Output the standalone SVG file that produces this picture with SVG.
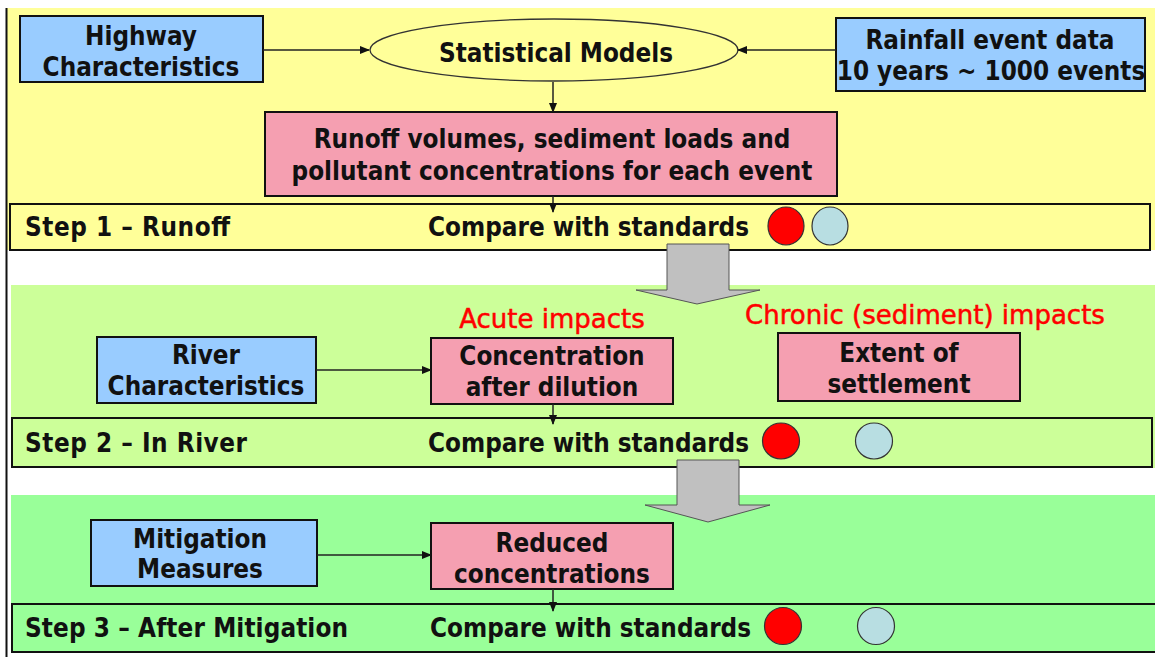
<svg xmlns="http://www.w3.org/2000/svg" width="1155" height="657" viewBox="0 0 1155 657">
<style>
.t{font-family:"DejaVu Sans Condensed","DejaVu Sans",sans-serif;font-weight:bold;font-size:25.8px;fill:#111;}
.c{text-anchor:middle;}
.red{font-family:"DejaVu Sans",sans-serif;font-size:26px;fill:#FF0000;stroke:#FF0000;stroke-width:0.5;text-anchor:middle;}
.blue{fill:#99CCFF;stroke:#111;stroke-width:2;}
.pink{fill:#F59FB1;stroke:#111;stroke-width:2;}
.bar{stroke:#111;stroke-width:2;}
.rc{fill:#FF0000;stroke:#333;stroke-width:1.2;}
.lc{fill:#B8DEE2;stroke:#333;stroke-width:1.2;}
.ln{stroke:#222;stroke-width:1.5;fill:none;marker-end:url(#ah);}
.big{fill:#C0C0C0;stroke:#555;stroke-width:1;}
</style>
<defs>
<marker id="ah" markerWidth="10" markerHeight="8" refX="9" refY="4" orient="auto" markerUnits="userSpaceOnUse">
<path d="M0,0 L10,4 L0,8 Z" fill="#111"/>
</marker>
</defs>
<rect width="1155" height="657" fill="#FFFFFF"/>
<g id="bands">
<rect x="7" y="8" width="1148" height="242" fill="#FFFF99"/>
<rect x="11" y="285" width="1144" height="183" fill="#CCFF99"/>
<rect x="11" y="495" width="1144" height="157" fill="#99FF99"/>
<line x1="6.5" y1="8" x2="6.5" y2="657" stroke="#111" stroke-width="2"/>
</g>
<g id="step1">
<rect class="bar" x="10" y="204" width="1140" height="46" fill="#FFFF99"/>
<text class="t" x="25" y="236" textLength="205">Step 1 – Runoff</text>
<text class="t" x="428" y="236">Compare with standards</text>
<ellipse class="rc" cx="786" cy="226" rx="18" ry="19"/>
<ellipse class="lc" cx="830" cy="226" rx="18" ry="19"/>
</g>
<g id="step2">
<rect class="bar" x="12" y="418" width="1140" height="49" fill="#CCFF99"/>
<text class="t" x="25" y="452" textLength="222">Step 2 – In River</text>
<text class="t" x="428" y="452">Compare with standards</text>
<ellipse class="rc" cx="781" cy="441" rx="18.5" ry="18"/>
<ellipse class="lc" cx="874" cy="441" rx="18.5" ry="18"/>
</g>
<g id="step3">
<rect class="bar" x="12" y="604" width="1145" height="48" fill="#99FF99"/>
<text class="t" x="25" y="637" textLength="323">Step 3 – After Mitigation</text>
<text class="t" x="430" y="637">Compare with standards</text>
<ellipse class="rc" cx="783" cy="626" rx="18.5" ry="18.5"/>
<ellipse class="lc" cx="876" cy="626" rx="18.5" ry="18.5"/>
</g>
<g id="highway">
<rect class="blue" x="20" y="16" width="243" height="66"/>
<text class="t c" x="141" y="45">Highway</text>
<text class="t c" x="141" y="76">Characteristics</text>
</g>
<g id="models">
<ellipse cx="554" cy="50" rx="184" ry="31" fill="#FFFF99" stroke="#333" stroke-width="1.3"/>
<text class="t c" x="556" y="62">Statistical Models</text>
</g>
<g id="rainfall">
<rect class="blue" x="836" y="18" width="309" height="73"/>
<text class="t c" x="990" y="49">Rainfall event data</text>
<text class="t c" x="991" y="80">10 years ~ 1000 events</text>
</g>
<g id="runoff">
<rect class="pink" x="265" y="112" width="572" height="84"/>
<text class="t c" x="552" y="148">Runoff volumes, sediment loads and</text>
<text class="t c" x="552" y="180">pollutant concentrations for each event</text>
</g>
<g id="river">
<rect class="blue" x="97" y="337" width="219" height="66"/>
<text class="t c" x="206" y="364">River</text>
<text class="t c" x="206" y="395">Characteristics</text>
</g>
<g id="acute">
<text class="red" x="552" y="328">Acute impacts</text>
</g>
<g id="chronic">
<text class="red" x="925" y="324">Chronic (sediment) impacts</text>
</g>
<g id="concentration">
<rect class="pink" x="431" y="338" width="242" height="66"/>
<text class="t c" x="552" y="365">Concentration</text>
<text class="t c" x="552" y="396">after dilution</text>
</g>
<g id="settlement">
<rect class="pink" x="778" y="333" width="242" height="68"/>
<text class="t c" x="899" y="362">Extent of</text>
<text class="t c" x="899" y="393">settlement</text>
</g>
<g id="mitigation">
<rect class="blue" x="91" y="520" width="226" height="66"/>
<text class="t c" x="200" y="548">Mitigation</text>
<text class="t c" x="200" y="578">Measures</text>
</g>
<g id="reduced">
<rect class="pink" x="431" y="523" width="242" height="66"/>
<text class="t c" x="552" y="552">Reduced</text>
<text class="t c" x="552" y="583">concentrations</text>
</g>
<g id="connectors">
<line class="ln" x1="263" y1="50" x2="369" y2="50"/>
<line class="ln" x1="836" y1="50" x2="738" y2="50"/>
<line class="ln" x1="553" y1="82" x2="553" y2="112"/>
<line class="ln" x1="553" y1="196" x2="553" y2="212"/>
<line class="ln" x1="316" y1="370" x2="431" y2="370"/>
<line class="ln" x1="553" y1="404" x2="553" y2="424"/>
<line class="ln" x1="317" y1="555" x2="431" y2="555"/>
<line class="ln" x1="553" y1="589" x2="553" y2="611"/>
<polygon class="big" points="667,244 729,244 729,290 760,290 697,304 636,290 667,290"/>
<polygon class="big" points="677,460 739,460 739,505 770,505 708,522 645,505 677,505"/>
</g>
</svg>
